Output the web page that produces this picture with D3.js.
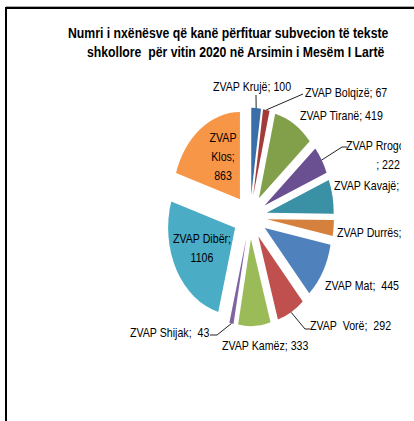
<!DOCTYPE html>
<html>
<head>
<meta charset="utf-8">
<script src="https://cdn.jsdelivr.net/npm/d3@7"></script>
<style>
body { margin: 0; background: #fff; }
svg { display: block; }
text { font-family: "Liberation Sans", Arial, sans-serif; white-space: pre; fill: #000; }
</style>
</head>
<body>
<svg width="414" height="421"></svg>
<script>
'use strict';

var titleLines = ['Numri i nxënësve që kanë përfituar subvecion të tekste',
	'shkollore  për vitin 2020 në Arsimin i Mesëm I Lartë'];

var categories = ['ZVAP Krujë', 'ZVAP Bolqizë', 'ZVAP Tiranë', 'ZVAP Rrogozhinë', 'ZVAP Kavajë', 'ZVAP Durrës',
	'ZVAP Mat', 'ZVAP  Vorë', 'ZVAP Kamëz', 'ZVAP Shijak', 'ZVAP Dibër', 'ZVAP Klos'];
var values = [100, 67, 419, 222, 270, 125, 445, 292, 333, 43, 1106, 863];
var separators = ['; ', '; ', '; ', '; ', '; ', '; ', ';  ', ';  ', '; ', ';  ', '; ', '; '];
var colors = ['#3b6ea8', '#a33b3b', '#82a04a', '#6a5090', '#3a90a5', '#d6803d',
	'#4f81bd', '#c0504d', '#9bbb59', '#8064a2', '#4bacc6', '#f79646'];

// label placement (layout only)
var labelPos = [
	{x: 213, y: 91, anchor: 'start', split: 'none', leader: [[256, 95]]},
	{x: 305, y: 97, anchor: 'start', split: 'none', leader: [[303, 94]]},
	{x: 300, y: 120, anchor: 'start', split: 'none'},
	{x: 388, y: 150, anchor: 'middle', split: 'value', leader: [[347, 147], [342, 147]]},
	{x: 334, y: 190, anchor: 'start', split: 'none'},
	{x: 337, y: 237, anchor: 'start', split: 'none'},
	{x: 325, y: 290, anchor: 'start', split: 'none'},
	{x: 310, y: 330, anchor: 'start', split: 'none', leader: [[310, 329], [305, 329]]},
	{x: 222, y: 350, anchor: 'start', split: 'none'},
	{x: 130, y: 337, anchor: 'start', split: 'none', leader: [[210, 335], [217, 335]]},
	{x: 202, y: 243, anchor: 'middle', split: 'semi'},
	{x: 223, y: 142, anchor: 'middle', split: 'words'}
];

var svg = d3.select('svg');
var cx = 250, cy = 217, R = 67, ex = 17, sy = 1.3;
var fontK = 0.85, lineH = 19;

// frame
svg.append('line').attr('x1', 6).attr('x2', 414).attr('y1', 6.5).attr('y2', 6.5).attr('stroke', '#aaa');
svg.append('path').attr('d', 'M6,421 V8 H414').attr('fill', 'none').attr('stroke', '#000').attr('stroke-width', 2);

// title
svg.selectAll('.title').data(titleLines).enter()
	.append('text')
	.attr('class', 'title')
	.attr('transform', function(d, i){ return 'translate(' + [68, 87][i] + ',' + [38, 57][i] + ') scale(0.845,1)'; })
	.style('font-weight', 'bold')
	.style('font-size', '14.5px')
	.text(function(d){ return d; });

var pie = d3.pie().sort(null).value(function(d){ return d; })(values);
var arc = d3.arc().innerRadius(0).outerRadius(R);

function mid(d){ return (d.startAngle + d.endAngle) / 2; }

var pieG = svg.append('g').attr('transform', 'translate(' + cx + ',' + cy + ') scale(1,' + sy + ')');
pieG.selectAll('path')
	.data(pie).enter()
	.append('path')
	.attr('d', arc)
	.attr('fill', function(d, i){ return colors[i]; })
	.attr('transform', function(d){
		return 'translate(' + Math.sin(mid(d)) * ex + ',' + (-Math.cos(mid(d)) * ex) + ')';
	});

svg.append('clipPath').attr('id', 'clip')
	.append('rect').attr('x', 0).attr('y', 0).attr('width', 401).attr('height', 421);
var lab = svg.append('g').attr('clip-path', 'url(#clip)');

// leader lines
pie.forEach(function(d, i){
	var p = labelPos[i];
	if (!p.leader) return;
	var m = mid(d);
	var pts = p.leader.concat([[cx + Math.sin(m) * (R + ex), cy - Math.cos(m) * (R + ex) * sy]]);
	lab.append('path')
		.attr('d', d3.line()(pts))
		.attr('fill', 'none')
		.attr('stroke', '#222')
		.attr('stroke-width', 1);
});

function labelLines(i){
	var split = labelPos[i].split;
	if (split === 'value') return [categories[i], separators[i] + values[i]];
	if (split === 'semi') return [categories[i] + ';', String(values[i])];
	if (split === 'words') return categories[i].split(' ').map(function(w, j, a){ return j === a.length - 1 ? w + ';' : w; }).concat([String(values[i])]);
	return [categories[i] + separators[i] + values[i]];
}

pie.forEach(function(d, i){
	var p = labelPos[i];
	labelLines(i).forEach(function(t, j){
		lab.append('text')
			.attr('transform', 'translate(' + p.x + ',' + (p.y + j * lineH) + ') scale(' + fontK + ',1)')
			.attr('text-anchor', p.anchor)
			.style('font-size', '12.5px')
			.text(t);
	});
});
</script>
</body>
</html>
